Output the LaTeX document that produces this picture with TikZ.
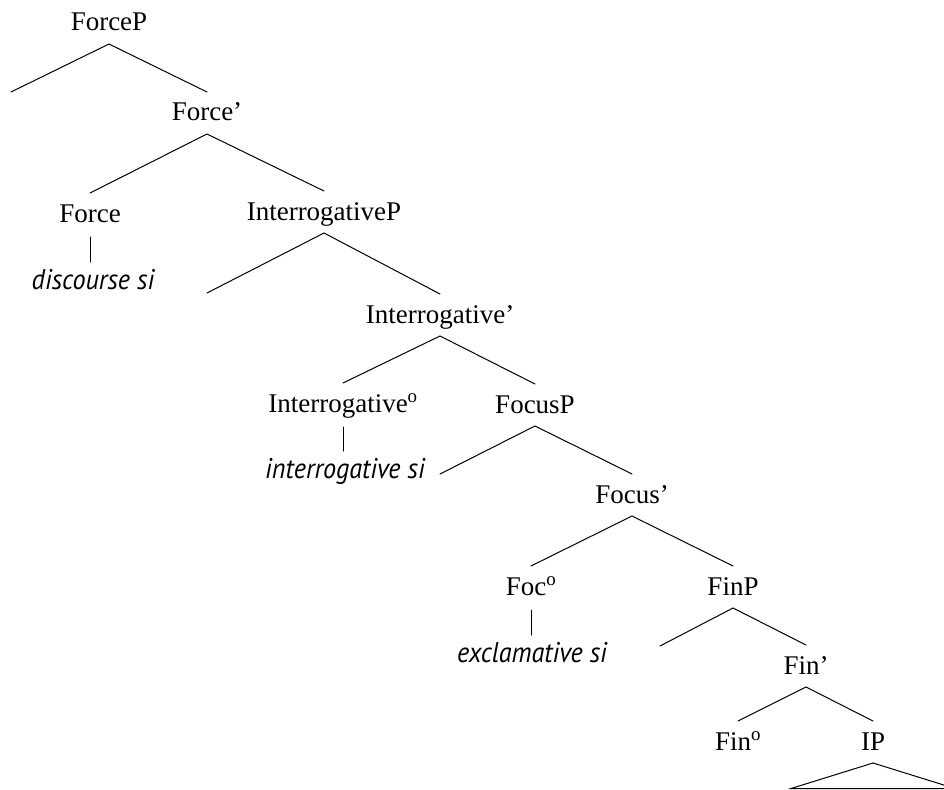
\documentclass[tikz,border=0pt]{standalone}
\usepackage{fontspec}
\usepackage{graphicx}
\setmainfont{Liberation Serif}
\newfontfamily\leaffont{PT Sans}
\newcommand{\lexitem}[1]{\scalebox{0.92}[1]{#1}}
\begin{document}
\begin{tikzpicture}[x=1pt,y=-1pt,
  cat/.style={anchor=base, inner xsep=0pt, inner ysep=11pt, outer sep=0pt,
    text height=18pt, text depth=2pt, font=\fontsize{27}{30}\selectfont},
  leaf/.style={anchor=base, inner xsep=0pt, inner ysep=9pt, outer sep=0pt,
    text height=18pt, text depth=2pt, font=\leaffont\itshape\fontsize{28.5}{30}\selectfont},
  branch/.style={line width=1pt, line cap=round, line join=miter}]
\useasboundingbox (0,0) rectangle (944,789);

% category labels (x centre, baseline)
\node[cat] (forceP)  at (109,31)  {ForceP};
\node[cat] (forceB)  at (207,121) {Force’};
\node[cat] (force)   at (90,222)  {Force};
\node[cat] (intP)    at (324,220) {InterrogativeP};
\node[cat] (intB)    at (440,323) {Interrogative’};
\node[cat] (intH)    at (343,412) {Interrogative\textsuperscript{o}};
\node[cat] (focP)    at (535,413) {FocusP};
\node[cat] (focB)    at (632,503) {Focus’};
\node[cat] (focH)    at (531,595) {Foc\textsuperscript{o}};
\node[cat] (finP)    at (733,595) {FinP};
\node[cat] (finB)    at (806,674) {Fin’};
\node[cat] (finH)    at (738,750) {Fin\textsuperscript{o}};
\node[cat] (ip)      at (873,750) {IP};

% lexical items
\node[leaf] (siDisc) at (93,289)  {\lexitem{discourse si}};
\node[leaf] (siInt)  at (345,478) {\lexitem{interrogative si}};
\node[leaf] (siExcl) at (532,662) {\lexitem{exclamative si}};

% empty specifier positions
\coordinate (specForce) at (11,92);
\coordinate (specInt)   at (207,293);
\coordinate (specFoc)   at (440,474);
\coordinate (specFin)   at (660,646);

% branches
\draw[branch] (specForce) -- (forceP.south) -- (forceB.north);
\draw[branch] (force.north) -- (forceB.south) -- (intP.north);
\draw[branch] (specInt) -- (intP.south) -- (intB.north);
\draw[branch] (intH.north) -- (intB.south) -- (focP.north);
\draw[branch] (specFoc) -- (focP.south) -- (focB.north);
\draw[branch] (focH.north) -- (focB.south) -- (finP.north);
\draw[branch] (specFin) -- (finP.south) -- (finB.north);
\draw[branch] (finH.north) -- (finB.south) -- (ip.north);

% heads to lexical items (vertical)
\draw[branch] ([yshift=-2pt]force.south) -- (force.south |- siDisc.north);
\draw[branch] ([yshift=-2pt]intH.south) -- (intH.south |- siInt.north);
\draw[branch] ([yshift=-2pt]focH.south) -- (focH.south |- siExcl.north);

% IP triangle
\coordinate (ipL) at (791,788.5);
\coordinate (ipR) at (955,788.5);
\begin{scope}
  \clip (0,0) rectangle (944,789);
  \draw[branch] (ip.south) -- (ipL) -- (ipR) -- cycle;
\end{scope}
\end{tikzpicture}
\end{document}
